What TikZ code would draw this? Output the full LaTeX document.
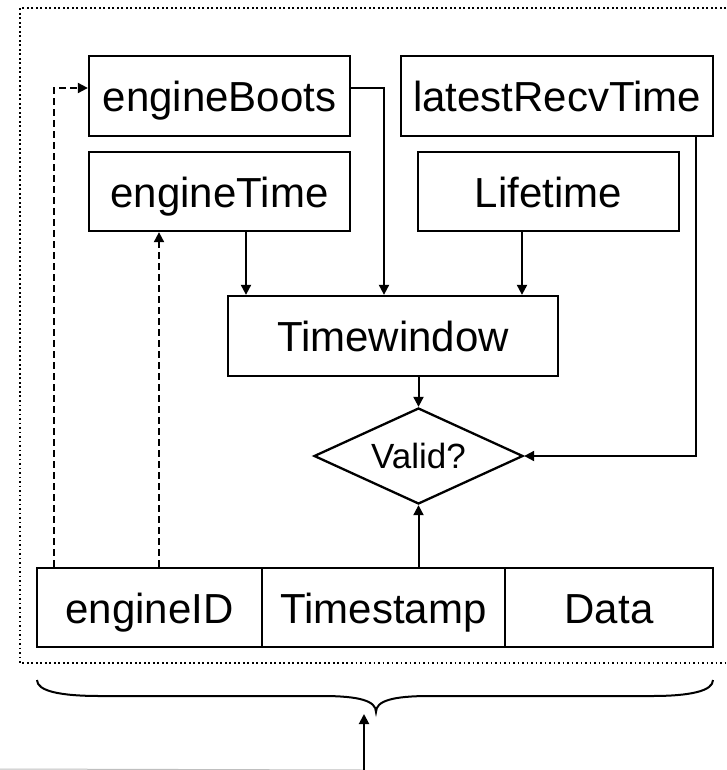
\documentclass[tikz,border=0pt]{standalone}
\usepackage{fontspec}
\setmainfont{Liberation Sans}
\usetikzlibrary{arrows.meta,shapes.geometric}
\begin{document}
\begin{tikzpicture}[x=1pt,y=-1pt,
  box/.style={draw,line width=2.3pt,inner sep=0pt,minimum height=80pt,text height=31pt,text depth=0pt,font=\fontsize{42}{48}\selectfont},
  conn/.style={line width=2pt,-{Triangle[length=10pt,width=10pt]}},
  dconn/.style={conn,dash pattern=on 7pt off 4pt},
  frame/.style={line width=1.7pt,dash pattern=on 1.7pt off 2.8pt},
  bracestyle/.style={line width=2pt},
  edge/.style={draw=black!25,line width=1pt}]
\useasboundingbox (0,0) rectangle (726,770);
\draw[frame] (726,8) -- (20,8) -- (20,663) -- (726,663);

\node[box,minimum width=261pt] (boots) at (219.5,96) {engineBoots};
\node[box,minimum width=261pt,minimum height=79pt] (etime) at (219.5,191.5) {engineTime};
\node[box,minimum width=312pt] (recv) at (557,96) {latestRecvTime};
\node[box,minimum width=261pt,minimum height=79pt] (life) at (548.5,191.5) {Lifetime};
\node[box,minimum width=330pt] (tw) at (393,336) {Timewindow};
\node[diamond,draw,line width=2.3pt,minimum width=209pt,minimum height=96pt,inner sep=0pt,aspect=2.2,text height=25pt,text depth=0pt,font=\fontsize{35}{40}\selectfont] (valid) at (418.5,456) {Valid?};

\node[box,minimum width=225pt,minimum height=79pt] (id) at (149.5,607.5) {engineID};
\node[box,minimum width=243pt,minimum height=79pt] (ts) at (383.5,607.5) {Timestamp};
\node[box,minimum width=208pt,minimum height=79pt] (data) at (609,607.5) {Data};

\draw[conn] ([yshift=8pt]boots.east) -| ([xshift=-9pt]tw.north);
\draw[conn] ([xshift=26.5pt]etime.south) -- ([xshift=26.5pt]etime.south |- tw.north);
\draw[conn] ([xshift=-26.5pt]life.south) -- ([xshift=-26.5pt]life.south |- tw.north);
\draw[conn] ([xshift=139pt]recv.south) |- (valid.east);
\draw[conn] (valid.north |- tw.south) -- (valid.north);
\draw[conn] (valid.south |- ts.north) -- (valid.south);
\draw[dconn] ([xshift=-95.5pt]id.north) |- ([yshift=8pt]boots.west);
\draw[dconn] ([xshift=9.5pt]id.north) -- ([xshift=9.5pt]id.north |- etime.south);

\draw[bracestyle] (37,680) .. controls (37,691) and (60,696) .. (100,696) -- (322,696)
  .. controls (360,696) and (376,701) .. (376,712)
  .. controls (376,701) and (392,696) .. (430,696) -- (652,696)
  .. controls (690,696) and (713,691) .. (713,680);

\coordinate (src) at (364,770);
\coordinate (bt) at (364,714);
\draw[edge] (0,769) -- (src);
\draw[conn] (src) -- (bt);
\end{tikzpicture}
\end{document}
